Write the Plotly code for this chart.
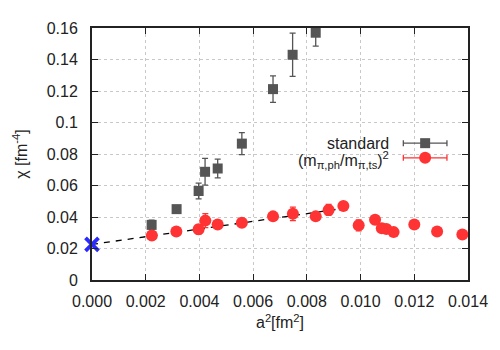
import plotly.graph_objects as go

# ---------------------------------------------------------------
# data
std_x = [0.00222, 0.00315, 0.00397, 0.00421, 0.00468, 0.00558, 0.00674, 0.00747, 0.00833]
std_y = [0.0350, 0.0450, 0.0565, 0.0687, 0.0708, 0.0866, 0.1212, 0.1430, 0.1570]
std_err = [0.0030, 0.0020, 0.0050, 0.0085, 0.0060, 0.0070, 0.0084, 0.0137, 0.0085]

ratio_x = [0.00223, 0.00314, 0.00397, 0.00422, 0.00468, 0.00558, 0.00674, 0.00748, 0.00833,
           0.00881, 0.00936, 0.00993, 0.01054, 0.01079, 0.01096, 0.01123, 0.01200, 0.01285, 0.01379]
ratio_y = [0.0283, 0.0308, 0.0322, 0.0377, 0.0353, 0.0363, 0.0404, 0.0420, 0.0404,
           0.0445, 0.0470, 0.0347, 0.0382, 0.0328, 0.0324, 0.0304, 0.0353, 0.0308, 0.0289]
ratio_err = [0.0020, 0.0015, 0.0030, 0.0045, 0.0020, 0.0020, 0.0020, 0.0043, 0.0020,
             0.0035, 0.0020, 0.0035, 0.0020, 0.0020, 0.0020, 0.0020, 0.0020, 0.0015, 0.0015]

fit_x = [0.0, 0.0097]
fit_y = [0.0226, 0.0463]

cont_x = [0.0]
cont_y = [0.0226]

x_ticks = [0.000, 0.002, 0.004, 0.006, 0.008, 0.010, 0.012, 0.014]
y_ticks = [0, 0.02, 0.04, 0.06, 0.08, 0.1, 0.12, 0.14, 0.16]
y_labels = ['0', '0.02', '0.04', '0.06', '0.08', '0.1', '0.12', '0.14', '0.16']

GRAY = '#555555'
RED = '#ff3333'
FONT = 'Liberation Sans, Arial, sans-serif'
FS = 16

fig = go.Figure()

# dashed fit line
fig.add_trace(go.Scatter(x=fit_x, y=fit_y, mode='lines',
                         line=dict(color='black', width=1.3, dash='6px,6px'),
                         showlegend=False))

fig.add_trace(go.Scatter(
    x=std_x, y=std_y, mode='markers',
    marker=dict(symbol='square', size=10, color=GRAY),
    error_y=dict(type='data', array=std_err, color=GRAY, thickness=1.3, width=3),
    showlegend=False))

fig.add_trace(go.Scatter(
    x=ratio_x, y=ratio_y, mode='markers',
    marker=dict(symbol='circle', size=12, color=RED),
    error_y=dict(type='data', array=ratio_err, color=RED, thickness=1.3, width=3),
    showlegend=False))

# continuum value
fig.add_trace(go.Scatter(
    x=cont_x, y=cont_y, mode='markers', cliponaxis=False,
    marker=dict(symbol='x-thin', size=13, color='#2a2aff',
                line=dict(color='#2a2aff', width=3.8)),
    showlegend=False))

# hand made legend (gnuplot style: text left, sample right)
for ly, col, sym, sz in [(0.543, GRAY, 'square', 10), (0.485, RED, 'circle', 12)]:
    fig.add_trace(go.Scatter(
        x=[0.886], y=[ly], xaxis='x2', yaxis='y2', mode='markers',
        marker=dict(symbol=sym, size=sz, color=col),
        error_x=dict(type='constant', value=0.058, color=col, thickness=1.3, width=3),
        showlegend=False, hoverinfo='skip'))

fig.add_annotation(x=0.796, y=0.543, xref='paper', yref='paper', xanchor='right', yanchor='middle',
                   text='standard', showarrow=False, font=dict(size=FS, color='#222'))
fig.add_annotation(x=0.796, y=0.477, xref='paper', yref='paper', xanchor='right', yanchor='middle',
                   text='(m<sub>π,ph</sub>/m<sub>π,ts</sub>)<sup>2</sup>', showarrow=False,
                   font=dict(size=FS, color='#222'))

axis_common = dict(
    showline=True, linecolor='#222', linewidth=2, mirror='ticks',
    ticks='inside', ticklen=6, tickcolor='#222', tickwidth=1,
    showgrid=True, gridcolor='#c8c8c8', griddash='dot', gridwidth=1,
    zeroline=False, tickfont=dict(size=FS, color='#222'),
)

# page body has an 8px margin, so the figure is shrunk / shifted by that
fig.update_layout(
    width=492, height=342,
    margin=dict(l=84, r=30, t=12, b=70),
    paper_bgcolor='white', plot_bgcolor='white',
    font=dict(family=FONT, color='#222'),
    xaxis=dict(range=[0, 0.014], tickvals=x_ticks, tickformat='.3f', ticklabelstandoff=6,
               title=dict(text='a<sup>2</sup>[fm<sup>2</sup>]', standoff=8, font=dict(size=FS)),
               **axis_common),
    yaxis=dict(range=[0, 0.16], tickvals=y_ticks, ticktext=y_labels, ticklabelstandoff=9,
               title=dict(text='χ [fm<sup>-4</sup>]', standoff=15, font=dict(size=FS)),
               **axis_common),
    xaxis2=dict(overlaying='x', range=[0, 1], visible=False),
    yaxis2=dict(overlaying='y', range=[0, 1], visible=False),
)

fig.write_html("out.html")
